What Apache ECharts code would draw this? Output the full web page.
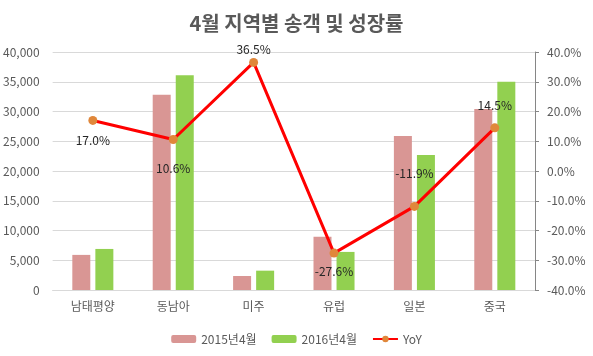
<!DOCTYPE html>
<html><head><meta charset="utf-8">
<script src="https://cdn.jsdelivr.net/npm/echarts@6/dist/echarts.min.js"></script>
<style>html,body{margin:0;padding:0;background:#fff}#c{width:593px;height:356px}</style>
</head><body><div id="c"></div>
<script>
const categories = ['남태평양','동남아','미주','유럽','일본','중국'];
const sales2015 = [5900, 32800, 2350, 8950, 25900, 30400];
const sales2016 = [6900, 36100, 3250, 6400, 22700, 35000];
const yoy = [17.0, 10.6, 36.5, -27.6, -11.9, 14.5];
const labelPos = ['bottom','bottom','top','bottom','top','top'];
const labelDist = [10, 18, 2, 8, 22, 12];

const font = '"Noto Sans CJK KR", "Noto Sans", sans-serif';
const chart = echarts.init(document.getElementById('c'));
chart.setOption({
  animation: false,
  textStyle: {fontFamily: font},
  title: {text: '4월 지역별 송객 및 성장률', left: 'center', top: 8,
    textStyle: {fontSize: 20, fontWeight: 'bold', color: '#595959', fontFamily: font}},
  grid: {left: 50, right: 58, top: 52, bottom: 66},
  legend: {bottom: 6, itemWidth: 25, itemHeight: 8, itemGap: 15,
    textStyle: {color: '#595959', fontSize: 12, fontFamily: font},
    data: ['2015년4월','2016년4월','YoY']},
  xAxis: {type: 'category', data: categories,
    axisLine: {lineStyle: {color: '#d9d9d9'}}, axisTick: {show: false},
    axisLabel: {color: '#595959', fontSize: 12, margin: 10}},
  yAxis: [
    {type: 'value', min: 0, max: 40000, interval: 5000,
      axisLabel: {color: '#595959', fontSize: 12, margin: 13,
        formatter: v => v.toLocaleString('en-US')},
      splitLine: {lineStyle: {color: '#d9d9d9'}}, axisLine: {show: false}},
    {type: 'value', min: -40, max: 40, interval: 10, position: 'right',
      axisLabel: {color: '#595959', fontSize: 12, margin: 12, formatter: v => v.toFixed(1) + '%'},
      splitLine: {show: false},
      axisLine: {show: true, lineStyle: {color: '#868686'}},
      axisTick: {show: true, length: 4, lineStyle: {color: '#868686'}}}
  ],
  series: [
    {name: '2015년4월', type: 'bar', data: sales2015, barWidth: 18, barGap: '28%',
      itemStyle: {color: '#D99694'}},
    {name: '2016년4월', type: 'bar', data: sales2016, barWidth: 18,
      itemStyle: {color: '#92D050'}},
    {name: 'YoY', type: 'line', yAxisIndex: 1, symbol: 'circle', symbolSize: 9,
      lineStyle: {color: '#FF0000', width: 3}, itemStyle: {color: '#E0873A'},
      data: yoy.map((v, i) => ({value: v, label: {show: true, position: labelPos[i], distance: labelDist[i],
        formatter: p => p.value.toFixed(1) + '%', color: '#262626', fontSize: 12}})),
      z: 5}
  ]
});
</script></body></html>
